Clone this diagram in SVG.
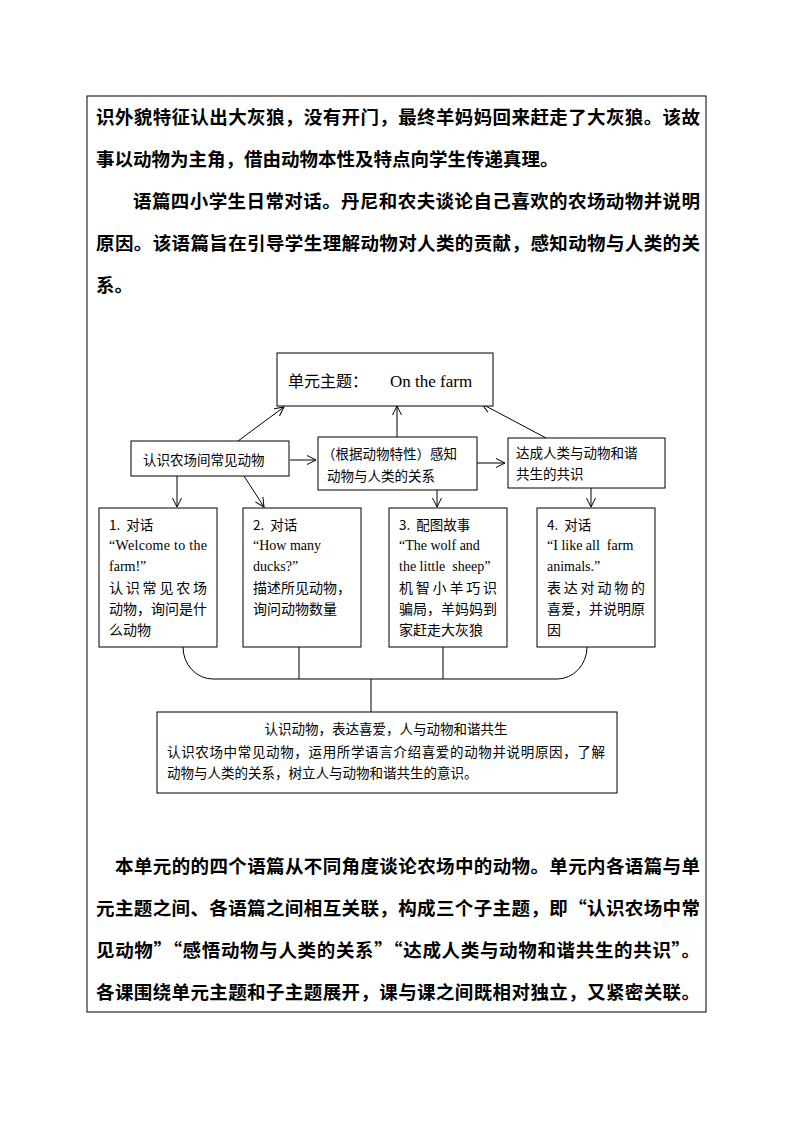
<svg xmlns="http://www.w3.org/2000/svg" width="794" height="1123" viewBox="0 0 794 1123">
<defs>
<marker id="arr" markerUnits="userSpaceOnUse" markerWidth="12" markerHeight="12" refX="10" refY="6" orient="auto">
<path d="M1,1.5 L10,6 L1,10.5" fill="none" stroke="#000" stroke-width="1"/>
</marker>
</defs>
<style>
.bt{font-family:"Noto Sans CJK SC","Liberation Serif",serif;font-weight:bold;font-size:18.5px;fill:#000}
.box{fill:#fff;stroke:#000;stroke-width:1}
.t{font-family:"Noto Sans CJK SC",sans-serif;font-size:13.5px;fill:#000;white-space:pre}
.e{font-family:"Liberation Serif","Noto Sans CJK SC",serif;font-size:14px;fill:#000;white-space:pre}
.c{fill:none;stroke:#000;stroke-width:1}
</style>
<rect x="0" y="0" width="794" height="1123" fill="#fff"/>
<rect x="87" y="96" width="619" height="916" fill="none" stroke="#000" stroke-width="1"/>
<g id="text-top">
<text class="bt" x="96" y="124" textLength="604" lengthAdjust="spacing">识外貌特征认出大灰狼，没有开门，最终羊妈妈回来赶走了大灰狼。该故</text>
<text class="bt" x="96" y="166">事以动物为主角，借由动物本性及特点向学生传递真理。</text>
<text class="bt" x="133" y="208" textLength="567" lengthAdjust="spacing">语篇四小学生日常对话。丹尼和农夫谈论自己喜欢的农场动物并说明</text>
<text class="bt" x="96" y="250" textLength="604" lengthAdjust="spacing">原因。该语篇旨在引导学生理解动物对人类的贡献，感知动物与人类的关</text>
<text class="bt" x="96" y="292">系。</text>
</g>
<g id="connectors">
<line class="c" x1="238" y1="441" x2="284" y2="407" marker-end="url(#arr)"/>
<line class="c" x1="290" y1="460" x2="316" y2="460" marker-end="url(#arr)"/>
<line class="c" x1="177" y1="476" x2="177" y2="507" marker-end="url(#arr)"/>
<line class="c" x1="244" y1="476" x2="264" y2="507" marker-end="url(#arr)"/>
<line class="c" x1="397" y1="437" x2="397" y2="406" marker-end="url(#arr)"/>
<line class="c" x1="477" y1="463" x2="505" y2="463" marker-end="url(#arr)"/>
<line class="c" x1="546" y1="438" x2="482" y2="404" marker-end="url(#arr)"/>
<line class="c" x1="437" y1="490" x2="437" y2="507" marker-end="url(#arr)"/>
<line class="c" x1="591" y1="488" x2="591" y2="507" marker-end="url(#arr)"/>
<path class="c" d="M183,647 A30,32 0 0 0 213,679 L557,679 A30,32 0 0 0 587,647"/>
<line class="c" x1="299" y1="647" x2="299" y2="679"/>
<line class="c" x1="443" y1="647" x2="443" y2="679"/>
<line class="c" x1="371" y1="679" x2="371" y2="712"/>
</g>
<g id="node-theme">
<rect class="box" x="277" y="353" width="216" height="53"/>
<text x="288" y="387"><tspan class="t" style="font-size:16px">单元主题：</tspan><tspan class="e" style="font-size:17px" x="390">On the farm</tspan></text>
</g>
<g id="node-a">
<rect class="box" x="131" y="441" width="158" height="35"/>
<text class="t" x="143" y="465">认识农场间常见动物</text>
</g>
<g id="node-b">
<rect class="box" x="318" y="437" width="159" height="53"/>
<text class="t" x="322" y="459">（根据动物特性）感知</text>
<text class="t" x="327" y="481">动物与人类的关系</text>
</g>
<g id="node-c">
<rect class="box" x="508" y="438" width="157" height="50"/>
<text class="t" x="516" y="458">达成人类与动物和谐</text>
<text class="t" x="516" y="479">共生的共识</text>
</g>
<g id="node-1">
<rect class="box" x="99" y="508" width="118" height="139"/>
<text class="t" x="109" y="530">1.  对话</text>
<text class="e" x="109" y="550" textLength="98" lengthAdjust="spacing">“Welcome to the</text>
<text class="e" x="109" y="571">farm!”</text>
<text class="t" x="109" y="593" style="font-size:14px" textLength="98" lengthAdjust="spacing">认识常见农场</text>
<text class="t" x="109" y="614" style="font-size:14px">动物，询问是什</text>
<text class="t" x="109" y="635" style="font-size:14px">么动物</text>
</g>
<g id="node-2">
<rect class="box" x="243" y="508" width="118" height="139"/>
<text class="t" x="253" y="530">2.  对话</text>
<text class="e" x="253" y="550">“How many</text>
<text class="e" x="253" y="571">ducks?”</text>
<text class="t" x="253" y="593" style="font-size:14px">描述所见动物，</text>
<text class="t" x="253" y="614" style="font-size:14px">询问动物数量</text>
</g>
<g id="node-3">
<rect class="box" x="389" y="508" width="118" height="139"/>
<text class="t" x="399" y="530">3.  配图故事</text>
<text class="e" x="399" y="550">“The wolf and</text>
<text class="e" x="399" y="571">the little  sheep”</text>
<text class="t" x="399" y="593" style="font-size:14px" textLength="98" lengthAdjust="spacing">机智小羊巧识</text>
<text class="t" x="399" y="614" style="font-size:14px">骗局，羊妈妈到</text>
<text class="t" x="399" y="635" style="font-size:14px">家赶走大灰狼</text>
</g>
<g id="node-4">
<rect class="box" x="537" y="508" width="118" height="139"/>
<text class="t" x="547" y="530">4.  对话</text>
<text class="e" x="547" y="550">“I like all  farm</text>
<text class="e" x="547" y="571">animals.”</text>
<text class="t" x="547" y="593" style="font-size:14px" textLength="98" lengthAdjust="spacing">表达对动物的</text>
<text class="t" x="547" y="614" style="font-size:14px">喜爱，并说明原</text>
<text class="t" x="547" y="635" style="font-size:14px">因</text>
</g>
<g id="node-summary">
<rect class="box" x="157" y="712" width="460" height="81"/>
<text class="t" x="386" y="734" text-anchor="middle">认识动物，表达喜爱，人与动物和谐共生</text>
<text class="t" x="167" y="757" textLength="438" lengthAdjust="spacing">认识农场中常见动物，运用所学语言介绍喜爱的动物并说明原因，了解</text>
<text class="t" x="167" y="778">动物与人类的关系，树立人与动物和谐共生的意识。</text>
</g>
<g id="text-bottom">
<text class="bt" x="115" y="873" textLength="585" lengthAdjust="spacing">本单元的的四个语篇从不同角度谈论农场中的动物。单元内各语篇与单</text>
<text class="bt" x="96" y="915" textLength="604" lengthAdjust="spacing">元主题之间、各语篇之间相互关联，构成三个子主题，即“认识农场中常</text>
<text class="bt" x="96" y="957" textLength="604" lengthAdjust="spacing">见动物”“感悟动物与人类的关系”“达成人类与动物和谐共生的共识”。</text>
<text class="bt" x="96" y="999" textLength="604" lengthAdjust="spacing">各课围绕单元主题和子主题展开，课与课之间既相对独立，又紧密关联。</text>
</g>
</svg>
